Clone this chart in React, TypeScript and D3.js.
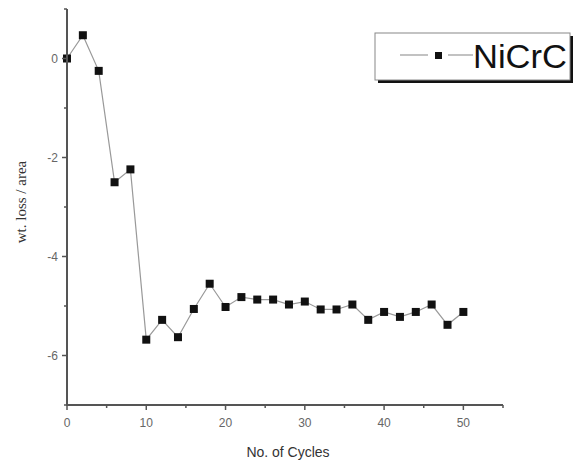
import React from "react";
import * as d3 from "d3";

// cycle number and weight loss per area
const cycles = [0, 2, 4, 6, 8, 10, 12, 14, 16, 18, 20, 22, 24, 26, 28, 30, 32, 34, 36, 38, 40, 42, 44, 46, 48, 50];
const wtLoss = [0, 0.47, -0.25, -2.5, -2.24, -5.68, -5.28, -5.63, -5.06, -4.55, -5.02, -4.82, -4.87, -4.87, -4.97, -4.91,
  -5.07, -5.07, -4.97, -5.28, -5.12, -5.22, -5.12, -4.97, -5.38, -5.12];

const xMajor = [0, 10, 20, 30, 40, 50];
const xMinor = [5, 15, 25, 35, 45, 55];
const yMajor = [0, -2, -4, -6];
const yMinor = [1, -1, -3, -5, -7];

const W = 578;
const H = 465;

const App = () => {
  const x = d3.scaleLinear().domain([0, 55]).range([67, 503]);
  const y = d3.scaleLinear().domain([-7, 1]).range([405, 9]);

  const pts = cycles.map((c, i) => [c, wtLoss[i]] as [number, number]);
  const line = d3.line<[number, number]>().x(d => x(d[0])).y(d => y(d[1]));

  const axisCol = "#555";
  const tickCol = "#666";

  return (
    <svg width={W} height={H} style={{ position: "absolute", left: 0, top: 0, background: "#fff" }}>
      <rect width={W} height={H} fill="#fff" />
      {/* data */}
      <path d={line(pts) || ""} fill="none" stroke="#999" strokeWidth={1.2} />
      {pts.map((d, i) => (
        <rect key={i} x={x(d[0]) - 4} y={y(d[1]) - 4} width={8} height={8} fill="#111" />
      ))}

      {/* axes */}
      <line x1={x(0)} x2={x(0)} y1={y(1)} y2={y(-7) + 1} stroke={axisCol} strokeWidth={2} />
      <line x1={x(0) - 1} x2={x(55)} y1={y(-7)} y2={y(-7)} stroke={axisCol} strokeWidth={2} />
      {yMajor.map(v => (
        <g key={"ym" + v}>
          <line x1={x(0) - 5} x2={x(0)} y1={y(v)} y2={y(v)} stroke={axisCol} strokeWidth={1.5} />
          <text x={x(0) - 9} y={y(v)} dy="0.35em" textAnchor="end" fill={tickCol}
            fontFamily="Liberation Sans, Arial, sans-serif" fontSize={12}>{v === 0 ? "0" : "-" + Math.abs(v)}</text>
        </g>
      ))}
      {yMinor.map(v => (
        <line key={"yn" + v} x1={x(0) - 3} x2={x(0)} y1={y(v)} y2={y(v)} stroke={axisCol} strokeWidth={1.5} />
      ))}
      {xMajor.map(v => (
        <g key={"xm" + v}>
          <line x1={x(v)} x2={x(v)} y1={y(-7)} y2={y(-7) + 5} stroke={axisCol} strokeWidth={1.5} />
          <text x={x(v)} y={y(-7) + 22} textAnchor="middle" fill={tickCol}
            fontFamily="Liberation Sans, Arial, sans-serif" fontSize={12}>{v}</text>
        </g>
      ))}
      {xMinor.map(v => (
        <line key={"xn" + v} x1={x(v)} x2={x(v)} y1={y(-7)} y2={y(-7) + 3} stroke={axisCol} strokeWidth={1.5} />
      ))}

      {/* axis titles */}
      <text x={288} y={457} textAnchor="middle" fill="#333"
        fontFamily="Liberation Sans, Arial, sans-serif" fontSize={14}>No. of Cycles</text>
      <text transform="translate(26,202) rotate(-90)" textAnchor="middle" fill="#333"
        fontFamily="Liberation Serif, Times New Roman, serif" fontSize={15}>wt. loss / area</text>

      {/* legend */}
      <rect x={378} y={36} width={195} height={47} fill="#111" />
      <rect x={375} y={33} width={195} height={47} fill="#fff" stroke="#888" strokeWidth={1} />
      <line x1={400} x2={428} y1={55} y2={55} stroke="#999" strokeWidth={1.2} />
      <line x1={448} x2={473} y1={55} y2={55} stroke="#999" strokeWidth={1.2} />
      <rect x={435} y={52} width={7} height={7} fill="#111" />
      <text x={473} y={68} fill="#111" fontFamily="Liberation Sans, Arial, sans-serif" fontSize={34}
        textLength={94} lengthAdjust="spacingAndGlyphs">NiCrC</text>
    </svg>
  );
};

export default App;
